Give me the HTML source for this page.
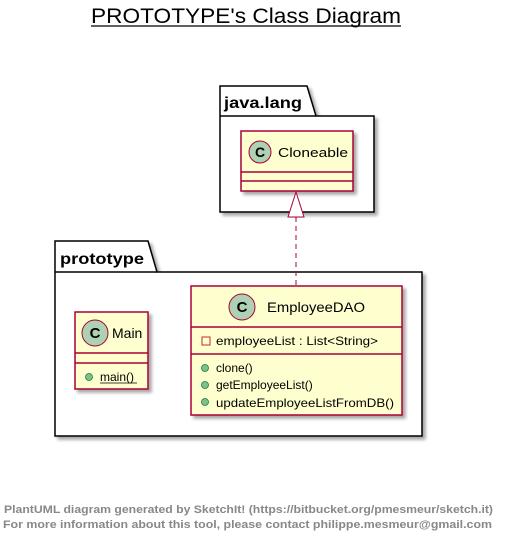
<!DOCTYPE html>
<html><head><style>body{margin:0;background:#fff}svg{display:block}</style></head><body>
<svg width="506" height="543" xmlns="http://www.w3.org/2000/svg" font-family="Liberation Sans, sans-serif">
<defs><filter id="s" x="-10%" y="-10%" width="130%" height="130%"><feDropShadow dx="3" dy="3" stdDeviation="1.5" flood-color="#000" flood-opacity="0.35"/></filter></defs>
<text x="91" y="23" font-size="21" textLength="310" lengthAdjust="spacingAndGlyphs">PROTOTYPE's Class Diagram</text>
<line x1="91" y1="26" x2="401" y2="26" stroke="#000" stroke-width="1.3"/>
<!-- java.lang -->
<g filter="url(#s)">
<path d="M220,86 H307 L316,116 H374 V212 H220 Z" fill="#fff" stroke="#000" stroke-width="1.5"/>
</g>
<line x1="220" y1="116" x2="316" y2="116" stroke="#000" stroke-width="1.5"/>
<text x="224" y="108" font-size="16" font-weight="bold" textLength="78" lengthAdjust="spacingAndGlyphs">java.lang</text>
<g filter="url(#s)"><rect x="241" y="131" width="112" height="60" fill="#FEFECE" stroke="#A80036" stroke-width="1.5"/></g>
<line x1="241" y1="172" x2="353" y2="172" stroke="#A80036" stroke-width="1.5"/>
<line x1="241" y1="181" x2="353" y2="181" stroke="#A80036" stroke-width="1.5"/>
<circle cx="260" cy="152" r="11" fill="#ADD1B2" stroke="#A80036"/>
<text x="260" y="157" font-size="14" font-weight="bold" text-anchor="middle">C</text>
<text x="278" y="157" font-size="13" textLength="70" lengthAdjust="spacingAndGlyphs">Cloneable</text>
<!-- prototype -->
<g filter="url(#s)">
<path d="M55,241 H148 L157,272 H422 V436 H55 Z" fill="#fff" stroke="#000" stroke-width="1.5"/>
</g>
<line x1="55" y1="272" x2="157" y2="272" stroke="#000" stroke-width="1.5"/>
<text x="60" y="264" font-size="16" font-weight="bold" textLength="84" lengthAdjust="spacingAndGlyphs">prototype</text>
<!-- arrow -->
<line x1="296" y1="217" x2="296" y2="286" stroke="#A80036" stroke-dasharray="5,4"/>
<path d="M296,192 L288,217 H304 Z" fill="#fff" stroke="#A80036"/>
<!-- EmployeeDAO -->
<g filter="url(#s)"><rect x="191" y="286" width="211" height="129" fill="#FEFECE" stroke="#A80036" stroke-width="1.5"/></g>
<line x1="191" y1="327" x2="402" y2="327" stroke="#A80036" stroke-width="1.5"/>
<line x1="191" y1="354" x2="402" y2="354" stroke="#A80036" stroke-width="1.5"/>
<circle cx="242" cy="307" r="13" fill="#ADD1B2" stroke="#A80036"/>
<text x="242" y="312" font-size="15" font-weight="bold" text-anchor="middle">C</text>
<text x="267" y="312" font-size="14" textLength="98" lengthAdjust="spacingAndGlyphs">EmployeeDAO</text>
<rect x="202" y="337" width="8" height="8" fill="none" stroke="#C82930"/>
<text x="216" y="345" font-size="12" textLength="162" lengthAdjust="spacingAndGlyphs">employeeList : List&lt;String&gt;</text>
<text x="216" y="372" font-size="12">clone()</text>
<text x="216" y="389" font-size="12">getEmployeeList()</text>
<text x="216" y="407" font-size="12" textLength="178" lengthAdjust="spacingAndGlyphs">updateEmployeeListFromDB()</text>
<!-- Main -->
<g filter="url(#s)"><rect x="75" y="312" width="73" height="77" fill="#FEFECE" stroke="#A80036" stroke-width="1.5"/></g>
<line x1="75" y1="353" x2="148" y2="353" stroke="#A80036" stroke-width="1.5"/>
<line x1="75" y1="363" x2="148" y2="363" stroke="#A80036" stroke-width="1.5"/>
<circle cx="95" cy="333" r="13" fill="#ADD1B2" stroke="#A80036"/>
<text x="95" y="338" font-size="15" font-weight="bold" text-anchor="middle">C</text>
<text x="112" y="338" font-size="14">Main</text>
<text x="100" y="381" font-size="12">main()</text>
<line x1="100" y1="383" x2="137" y2="383" stroke="#000" stroke-width="0.8"/>
<g fill="#84BE84" stroke="#038048" stroke-width="0.8"><circle cx="205" cy="368" r="3.5"/><circle cx="205" cy="385" r="3.5"/><circle cx="205" cy="402" r="3.5"/><circle cx="89" cy="377" r="3.5"/></g>
<!-- footer -->
<text x="4" y="513" font-size="11" font-weight="bold" fill="#888" textLength="489" lengthAdjust="spacingAndGlyphs">PlantUML diagram generated by SketchIt! (https://bitbucket.org/pmesmeur/sketch.it)</text>
<text x="3" y="528" font-size="11" font-weight="bold" fill="#888" textLength="489" lengthAdjust="spacingAndGlyphs">For more information about this tool, please contact philippe.mesmeur@gmail.com</text>
</svg>
</body></html>
